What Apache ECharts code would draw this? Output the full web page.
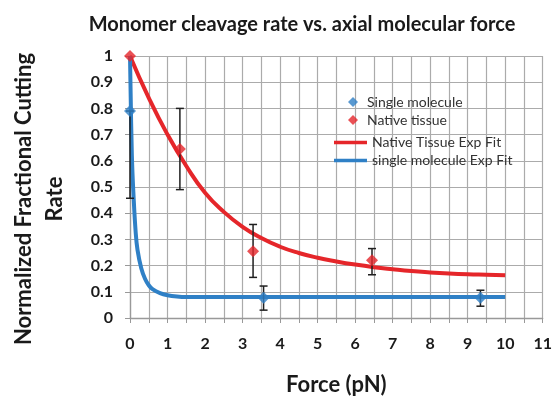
<!DOCTYPE html>
<html>
<head>
<meta charset="utf-8">
<script src="https://cdn.jsdelivr.net/npm/echarts@6/dist/echarts.min.js"></script>
<style>
  html, body { margin: 0; padding: 0; background: #fff; }
  #chart { width: 555px; height: 401px; }
</style>
</head>
<body>
<div id="chart"></div>
<script>
var dom = document.getElementById("chart");
var myChart = echarts.init(dom);

// measured points [force, rate]
var singlePts = [[0, 0.79], [3.56, 0.077], [9.34, 0.077]];
var nativePts = [[0, 1.0], [1.33, 0.645], [3.28, 0.255], [6.45, 0.22]];

// error bars [force, low, high]
var singleErr = [[0, 0.457, 0.79], [3.56, 0.03, 0.122], [9.34, 0.045, 0.106]];
var nativeErr = [[1.33, 0.49, 0.80], [3.28, 0.155, 0.357], [6.45, 0.165, 0.265]];

// fit curves
var nativeFit = [[0, 1.0], [0.5, 0.84], [1, 0.70], [1.5, 0.58], [2, 0.478], [2.5, 0.405],
    [3, 0.348], [3.5, 0.305], [4, 0.272], [4.5, 0.248], [5, 0.23], [5.5, 0.216], [6, 0.204],
    [6.5, 0.194], [7, 0.186], [7.5, 0.179], [8, 0.174], [8.5, 0.17], [9, 0.167],
    [9.5, 0.165], [10, 0.163]];
var singleFit = [[0, 1.0], [0.05, 0.62], [0.1, 0.45], [0.15, 0.33], [0.2, 0.26], [0.3, 0.19],
    [0.4, 0.15], [0.5, 0.125], [0.6, 0.11], [0.8, 0.095], [1.0, 0.087], [1.25, 0.082],
    [1.5, 0.08], [2, 0.08], [3, 0.08], [4, 0.08], [5, 0.08], [6, 0.08], [7, 0.08],
    [8, 0.08], [9, 0.08], [10, 0.08]];

var xTicks = [0, 1, 2, 3, 4, 5, 6, 7, 8, 9, 10, 11];
var yTicks = [0, 0.1, 0.2, 0.3, 0.4, 0.5, 0.6, 0.7, 0.8, 0.9, 1];

var FONT = 'Lato';
var RED = '#e5262a';
var BLUE = '#2f80c6';
var GRIDC = '#ababab';

function errorBars(params, api) {
    var x = api.value(0);
    var lo = api.coord([x, api.value(1)]);
    var hi = api.coord([x, api.value(2)]);
    var w = 4;
    var st = { stroke: '#1f1f1f', lineWidth: 1.5 };
    return {
        type: 'group',
        children: [
            { type: 'line', shape: { x1: lo[0], y1: lo[1], x2: hi[0], y2: hi[1] }, style: st },
            { type: 'line', shape: { x1: lo[0] - w, y1: lo[1], x2: lo[0] + w, y2: lo[1] }, style: st },
            { type: 'line', shape: { x1: hi[0] - w, y1: hi[1], x2: hi[0] + w, y2: hi[1] }, style: st }
        ]
    };
}

var option = {
    animation: false,
    backgroundColor: '#fff',
    title: {
        text: 'Monomer cleavage rate vs. axial molecular force',
        left: 297,
        top: 10,
        textAlign: 'center',
        textStyle: { fontFamily: FONT, fontSize: 20, fontWeight: 'bold', color: '#1a1a1a' }
    },
    legend: [{
        orient: 'vertical',
        left: 343,
        top: 90,
        itemWidth: 10,
        itemHeight: 10,
        itemGap: 4,
        icon: 'diamond',
        selectedMode: false,
        data: ['Single molecule', 'Native tissue'],
        textStyle: { fontFamily: FONT, fontSize: 14, color: '#333', padding: [0, 0, 0, 4] }
    }, {
        orient: 'vertical',
        left: 329,
        top: 130.5,
        itemWidth: 33,
        itemHeight: 3.5,
        itemGap: 4,
        icon: 'rect',
        selectedMode: false,
        data: ['Native Tissue Exp Fit', 'single molecule Exp Fit'],
        textStyle: { fontFamily: FONT, fontSize: 14, color: '#333' }
    }],
    grid: { left: 124, right: 11, top: 56, bottom: 83 },
    xAxis: {
        type: 'value',
        min: xTicks[0],
        max: xTicks[xTicks.length - 1],
        interval: 1,
        name: 'Force (pN)',
        nameLocation: 'middle',
        nameGap: 56,
        nameTextStyle: { fontFamily: FONT, fontSize: 22, fontWeight: 'bold', color: '#1a1a1a' },
        axisLine: { show: true, lineStyle: { color: '#999', width: 1.3 } },
        axisTick: { show: true, length: 5, lineStyle: { color: '#999' } },
        minorTick: { show: true, splitNumber: 2, length: 5, lineStyle: { color: '#999' } },
        splitLine: { show: true, lineStyle: { color: GRIDC, width: 1.2 } },
        minorSplitLine: { show: true, lineStyle: { color: GRIDC, width: 1.2 } },
        axisLabel: { margin: 18, fontFamily: FONT, fontSize: 16, fontWeight: 'bold', color: '#1a1a1a' }
    },
    yAxis: {
        type: 'value',
        min: yTicks[0],
        max: yTicks[yTicks.length - 1],
        interval: 0.1,
        name: 'Normalized Fractional Cutting\nRate',
        nameLocation: 'middle',
        nameRotate: 90,
        nameGap: 60,
        nameTextStyle: {
            fontFamily: FONT, fontSize: 22, fontWeight: 'bold', color: '#1a1a1a',
            lineHeight: 31, padding: [0, 24, 0, 0]
        },
        axisLine: { show: true, lineStyle: { color: '#999', width: 1.3 } },
        axisTick: { show: true, length: 5, lineStyle: { color: '#999' } },
        splitLine: { show: true, lineStyle: { color: GRIDC, width: 1.2 } },
        axisLabel: {
            margin: 17, fontFamily: FONT, fontSize: 16, fontWeight: 'bold', color: '#1a1a1a',
            formatter: function (v) { return String(Math.round(v * 10) / 10); }
        }
    },
    series: [{
        name: 'Native Tissue Exp Fit',
        type: 'line',
        data: nativeFit,
        smooth: true,
        showSymbol: false,
        color: RED,
        lineStyle: { color: RED, width: 4 },
        z: 2
    }, {
        name: 'single molecule Exp Fit',
        type: 'line',
        data: singleFit,
        smooth: 0.4,
        showSymbol: false,
        color: BLUE,
        lineStyle: { color: BLUE, width: 4 },
        z: 2
    }, {
        type: 'custom',
        data: singleErr.concat(nativeErr),
        renderItem: errorBars,
        encode: { x: 0, y: [1, 2] },
        z: 3
    }, {
        name: 'Single molecule',
        type: 'scatter',
        data: singlePts,
        symbol: 'diamond',
        symbolSize: 12,
        color: BLUE,
        itemStyle: { color: BLUE },
        z: 4
    }, {
        name: 'Native tissue',
        type: 'scatter',
        data: nativePts,
        symbol: 'diamond',
        symbolSize: 12,
        color: RED,
        itemStyle: { color: RED },
        z: 4
    }]
};

myChart.setOption(option, true);
</script>
</body>
</html>
